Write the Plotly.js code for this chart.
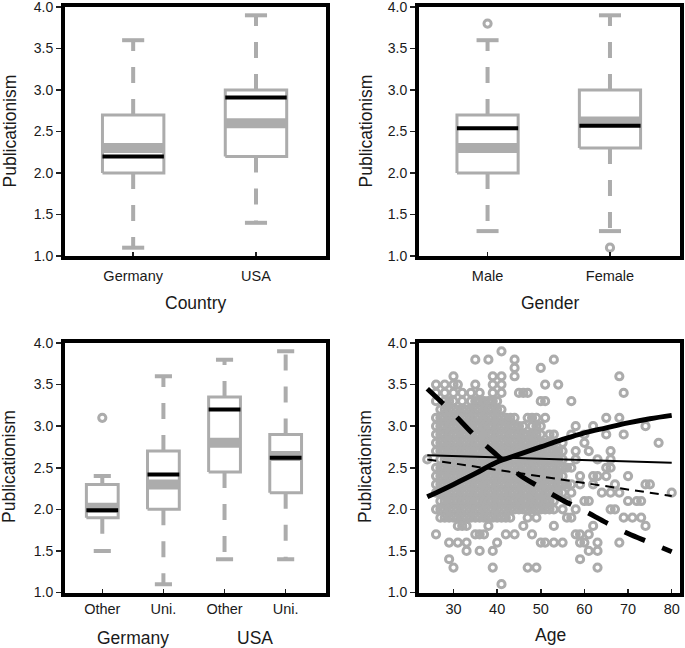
<!DOCTYPE html>
<html><head><meta charset="utf-8">
<script src="https://cdn.plot.ly/plotly-3.0.1.min.js"></script>
<style>html,body{margin:0;padding:0;background:#fff}#chart{width:685px;height:648px}</style>
</head><body><div id="chart"></div>
<script>
// ---------- Panel 1: Country ----------
const countryCats = ['Germany', 'USA'];
const countryQ1 = [2.0, 2.2];
const countryQ3 = [2.7, 3.0];
const countryMedian = [2.3, 2.6];
const countryMean = [2.2, 2.91];
const countryLow = [1.1, 1.4];
const countryHigh = [3.6, 3.9];
const countryOutliers = [[], []];

// ---------- Panel 2: Gender ----------
const genderCats = ['Male', 'Female'];
const genderQ1 = [2.0, 2.3];
const genderQ3 = [2.7, 3.0];
const genderMedian = [2.3, 2.62];
const genderMean = [2.54, 2.57];
const genderLow = [1.3, 1.3];
const genderHigh = [3.6, 3.9];
const genderOutliers = [[3.8], [1.1]];

// ---------- Panel 3: Country x institution ----------
const instCats = ['Other', 'Uni.', 'Other', 'Uni.'];
const instGroups = ['Germany', 'USA'];
const instQ1 = [1.9, 2.0, 2.45, 2.2];
const instQ3 = [2.3, 2.7, 3.35, 2.9];
const instMedian = [2.02, 2.3, 2.8, 2.64];
const instMean = [1.99, 2.42, 3.2, 2.62];
const instLow = [1.5, 1.1, 1.4, 1.4];
const instHigh = [2.4, 3.6, 3.8, 3.9];
const instOutliers = [[3.1], [], [], []];

// ---------- Panel 4: Age scatter ----------
// publicationism levels and the ages (single ages or [from,to] runs) with a point at that level
const pubLevels = [3.9, 3.8, 3.7, 3.6, 3.5, 3.4, 3.3, 3.2, 3.1, 3.0, 2.9, 2.8, 2.7, 2.6, 2.5, 2.4, 2.3, 2.2, 2.1, 2.0, 1.9, 1.8, 1.7, 1.6, 1.5, 1.4, 1.3, 1.1];
const agesAtLevel = [
  [41],
  [35, 38, 44, 53],
  [44, 50],
  [30, 39, 41, 44, 68],
  [26, 28, 30, 31, 35, 39, 41, 51, 54],
  [26, 28, 30, 32, 34, 36, 39, 41, 45, 46, 47, 69],
  [26, [28, 30], 32, [34, 40], 50, 51, 57],
  [[27, 41]],
  [[26, 44], [47, 49], 51, 65, 68],
  [[26, 46], [48, 50], 58, 62, 74],
  [[26, 50], 52, 53, 57, 60, 65, 69],
  [[26, 53], 55, 60, 77],
  [[26, 55], 58, 61, 66],
  [24, [27, 55], 58, 63, 66],
  [[26, 57], 65, 66],
  [[26, 55], 59, 62, 63, 65, 70],
  [[26, 57], 59, 62, 67, 74, 75],
  [[26, 55], 57, 64, 66, 68, 80],
  [[27, 53], 56, 60, 61, 70, 72, 73],
  [[26, 53], 55, 58, 66, 67],
  [[27, 43], 47, 49, 56, 57, 69, 71, 73],
  [[31, 33], 38, 46, 53, 62, 74],
  [26, [35, 37], 42, 44, 48, 58, 59, 61],
  [29, 31, 33, 40, 50, 51, 53, 55, 59, 60, 63, 68],
  [33, 36, 39, 61, 63],
  [29, 59],
  [30, 39, 47, 49, 63],
  [41]
];
// fitted lines
const fitAges = [24, 30, 35, 40, 45, 50, 55, 60, 65, 70, 75, 80];
const fitThickSolid = [2.15, 2.30, 2.43, 2.57, 2.66, 2.75, 2.84, 2.92, 2.98, 3.04, 3.09, 3.13];
const fitThickDash = [3.45, 3.15, 2.88, 2.65, 2.42, 2.26, 2.11, 1.98, 1.84, 1.71, 1.60, 1.49];
const fitLineAges = [24, 80];
const fitThinSolid = [2.65, 2.56];
const fitThinDash = [2.60, 2.16];

(function () {
const GRAY = '#acacac';
const FONT = 'Liberation Sans, Arial, sans-serif';
const traces = [];
const MARKER = {symbol: 'circle-open', size: 7.2, color: GRAY, line: {color: GRAY, width: 3}};

function addBoxes(q1, q3, med, mean, low, high, outl, xa, ya, halfW, capHalf) {
  q1.forEach((_, i) => {
    const base = {mode: 'lines', xaxis: xa, yaxis: ya, hoverinfo: 'skip', showlegend: false};
    traces.push(Object.assign({}, base, {x: [i, i], y: [q3[i], high[i]], line: {color: GRAY, width: 4, dash: '16px,16px'}}));
    traces.push(Object.assign({}, base, {x: [i, i], y: [q1[i], low[i]], line: {color: GRAY, width: 4, dash: '16px,16px'}}));
    traces.push(Object.assign({}, base, {x: [i - capHalf, i + capHalf], y: [high[i], high[i]], line: {color: GRAY, width: 4}}));
    traces.push(Object.assign({}, base, {x: [i - capHalf, i + capHalf], y: [low[i], low[i]], line: {color: GRAY, width: 4}}));
    traces.push(Object.assign({}, base, {x: [i - halfW, i + halfW, i + halfW, i - halfW, i - halfW],
      y: [q1[i], q1[i], q3[i], q3[i], q1[i]], fill: 'toself', fillcolor: '#ffffff', line: {color: GRAY, width: 3}}));
    traces.push(Object.assign({}, base, {x: [i - halfW, i + halfW], y: [med[i], med[i]], line: {color: GRAY, width: 10}}));
    traces.push(Object.assign({}, base, {x: [i - halfW, i + halfW], y: [mean[i], mean[i]], line: {color: '#000000', width: 4}}));
    if (outl[i].length) {
      traces.push({x: outl[i].map(() => i), y: outl[i], mode: 'markers', xaxis: xa, yaxis: ya, hoverinfo: 'skip', showlegend: false,
        marker: MARKER});
    }
  });
}

addBoxes(countryQ1, countryQ3, countryMedian, countryMean, countryLow, countryHigh, countryOutliers, 'x', 'y', 0.25, 0.09);
addBoxes(genderQ1, genderQ3, genderMedian, genderMean, genderLow, genderHigh, genderOutliers, 'x2', 'y2', 0.25, 0.09);
addBoxes(instQ1, instQ3, instMedian, instMean, instLow, instHigh, instOutliers, 'x3', 'y3', 0.26, 0.14);

const sx = [], sy = [];
pubLevels.forEach((lv, k) => {
  agesAtLevel[k].forEach(a => {
    if (Array.isArray(a)) { for (let g = a[0]; g <= a[1]; g++) { sx.push(g); sy.push(lv); } }
    else { sx.push(a); sy.push(lv); }
  });
});
traces.push({x: sx, y: sy, mode: 'markers', xaxis: 'x4', yaxis: 'y4', hoverinfo: 'skip', showlegend: false, marker: MARKER});
traces.push({x: fitLineAges, y: fitThinSolid, mode: 'lines', xaxis: 'x4', yaxis: 'y4', showlegend: false, line: {color: '#000', width: 2}});
traces.push({x: fitLineAges, y: fitThinDash, mode: 'lines', xaxis: 'x4', yaxis: 'y4', showlegend: false, line: {color: '#000', width: 2, dash: '9px,6px'}});
traces.push({x: fitAges, y: fitThickSolid, mode: 'lines', xaxis: 'x4', yaxis: 'y4', showlegend: false, line: {color: '#000', width: 5, shape: 'spline'}});
traces.push({x: fitAges, y: fitThickDash, mode: 'lines', xaxis: 'x4', yaxis: 'y4', showlegend: false, line: {color: '#000', width: 5, shape: 'spline', dash: '22px,19px'}});

const W = 685, H = 648;
const domTop = [1 - 256 / H, 1 - 7 / H];
const domBot = [1 - 592.5 / H, 1 - 343 / H];
const domLeft = [65 / W, 326 / W];
const domRight = [419 / W, 680 / W];

function yAx(dom, anchor) {
  return {domain: dom, anchor: anchor, range: [1, 4], tickvals: [1, 1.5, 2, 2.5, 3, 3.5, 4],
    ticktext: ['1.0', '1.5', '2.0', '2.5', '3.0', '3.5', '4.0'], ticklabeloverflow: 'allow',
    showline: true, linewidth: 4, linecolor: '#000', mirror: true, ticks: 'outside', ticklen: 5, tickwidth: 1.5,
    tickcolor: '#222', showgrid: false, zeroline: false, tickfont: {family: FONT, size: 14, color: '#1a1a1a'}, fixedrange: true};
}
function xAx(dom, anchor, range, vals, text, standoff) {
  return {domain: dom, anchor: anchor, range: range, tickvals: vals, ticktext: text, ticklabeloverflow: 'allow',
    ticklabelstandoff: standoff || 0,
    showline: true, linewidth: 4, linecolor: '#000', mirror: true, ticks: 'inside', ticklen: 4, tickwidth: 1.5,
    tickcolor: '#222', showgrid: false, zeroline: false, tickfont: {family: FONT, size: 14.5, color: '#1a1a1a'}, fixedrange: true};
}
function ann(text, px, py, angle) {
  return {text: text, x: px / W, y: 1 - py / H, xref: 'paper', yref: 'paper', showarrow: false,
    xanchor: 'center', yanchor: 'middle', textangle: angle || 0, font: {family: FONT, size: 17.5, color: '#1a1a1a'}};
}

const layout = {
  width: W, height: H, margin: {l: 0, r: 0, t: 0, b: 0}, showlegend: false,
  paper_bgcolor: '#fff', plot_bgcolor: '#fff',
  xaxis: xAx(domLeft, 'y', [-0.555, 1.57], [0, 1], countryCats, 4),
  yaxis: yAx(domTop, 'x'),
  xaxis2: xAx(domRight, 'y2', [-0.56, 1.572], [0, 1], genderCats, 4),
  yaxis2: yAx(domTop, 'x2'),
  xaxis3: xAx(domLeft, 'y3', [-0.61, 3.66], [0, 1, 2, 3], instCats, 0),
  yaxis3: yAx(domBot, 'x3'),
  xaxis4: xAx(domRight, 'y4', [22.1, 81.9], [30, 40, 50, 60, 70, 80], ['30', '40', '50', '60', '70', '80'], 0),
  yaxis4: yAx(domBot, 'x4'),
  annotations: [
    ann('Publicationism', 9, 131.5, -90),
    ann('Publicationism', 365, 131.5, -90),
    ann('Publicationism', 9, 467, -90),
    ann('Publicationism', 365, 467, -90),
    ann('Country', 195.5, 303),
    ann('Gender', 550, 303),
    ann('Age', 550, 635),
    {text: instGroups[0], x: 0.5, y: 1 - 638 / H, xref: 'x3', yref: 'paper', showarrow: false, xanchor: 'center', yanchor: 'middle',
      font: {family: FONT, size: 17.5, color: '#1a1a1a'}},
    {text: instGroups[1], x: 2.5, y: 1 - 638 / H, xref: 'x3', yref: 'paper', showarrow: false, xanchor: 'center', yanchor: 'middle',
      font: {family: FONT, size: 17.5, color: '#1a1a1a'}}
  ]
};
Plotly.newPlot('chart', traces, layout, {staticPlot: true, displayModeBar: false});
})();
</script></body></html>
